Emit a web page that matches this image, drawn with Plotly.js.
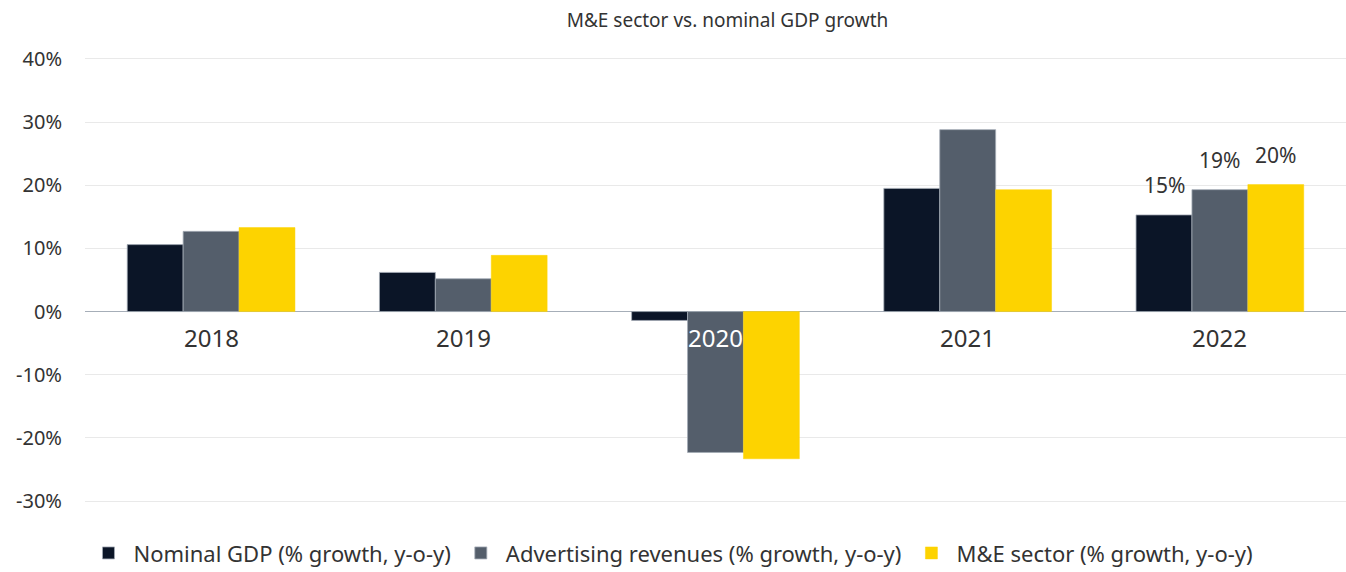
<!DOCTYPE html>
<html>
<head>
<meta charset="utf-8">
<script src="https://cdn.plot.ly/plotly-3.0.1.min.js"></script>
<style>html,body{margin:0;padding:0;background:#fff;}#chart{width:1346px;height:572px;}</style>
</head>
<body>
<div id="chart"></div>
<script>
const years = ["2018", "2019", "2020", "2021", "2022"];
const gdpGrowth = [10.6, 6.2, -1.4, 19.5, 15.3];
const adGrowth = [12.7, 5.2, -22.3, 28.8, 19.3];
const meGrowth = [13.3, 8.9, -23.3, 19.3, 20.1];
const labelYear = "2022";
const seriesNames = ["Nominal GDP (% growth, y-o-y)", "Advertising revenues (% growth, y-o-y)", "M&E sector (% growth, y-o-y)"];
const yTicks = [-30, -20, -10, 0, 10, 20, 30, 40];

const FONT = "Noto Sans, Open Sans, sans-serif";
const colors = ["#0b1527", "#545e6b", "#fdd300"];
const series = [gdpGrowth, adGrowth, meGrowth];
const BARGAP = 0.335;
const groupWidth = 1 - BARGAP;

const traces = series.map((vals, i) => ({
  type: "bar",
  name: seriesNames[i],
  x: years,
  y: vals,
  marker: {color: colors[i], line: {color: i === 2 ? "rgba(253,211,0,0.6)" : "#a3abb5", width: 0.8}},
  hoverinfo: "skip"
}));

const catAnnotations = years.map((y, j) => ({
  x: j, y: 0, xref: "x", yref: "y",
  text: y, showarrow: false,
  yanchor: "top", yshift: -7,
  font: {family: FONT, size: 24, color: Math.min(gdpGrowth[j], adGrowth[j], meGrowth[j]) < -10 ? "#ffffff" : "#333333"}
}));

const j22 = years.indexOf(labelYear);
const valueAnnotations = series.map((vals, i) => ({
  x: j22 + (i - (series.length - 1) / 2) * groupWidth / series.length,
  y: vals[j22], xref: "x", yref: "y",
  text: Math.round(vals[j22]) + "%", showarrow: false,
  yanchor: "bottom", yshift: 14,
  font: {family: FONT, size: 21, color: "#333333"}
}));

const layout = {
  width: 1346, height: 572,
  margin: {l: 85, r: 0, t: 57, b: 69},
  paper_bgcolor: "#fff", plot_bgcolor: "#fff",
  font: {family: FONT, size: 20, color: "#333"},
  title: {text: "M&E sector vs. nominal GDP growth", x: 0.5095, xref: "paper", xanchor: "center", y: 0.965, yref: "container", yanchor: "middle", font: {family: FONT, size: 19, color: "#333"}},
  barmode: "group",
  bargap: BARGAP,
  bargroupgap: 0,
  showlegend: true,
  legend: {orientation: "h", x: 0.4985, xref: "container", xanchor: "center", y: 0.033, yref: "container", yanchor: "middle", font: {family: FONT, size: 22, color: "#333"}, itemwidth: 40, traceorder: "normal"},
  xaxis: {type: "category", categoryorder: "array", categoryarray: years, range: [-0.5, years.length - 0.5], autorange: false, showticklabels: false, showgrid: false, zeroline: false, showline: false, ticks: ""},
  yaxis: {range: [-30.3, 40.3], autorange: false, tickvals: yTicks, ticktext: yTicks.map(v => v + "%"), showgrid: true, gridcolor: "#e9e9e9", gridwidth: 1, zeroline: true, zerolinecolor: "#a6aeb8", zerolinewidth: 1.5, showline: false, ticks: "", ticklabelstandoff: 22, tickfont: {family: FONT, size: 20, color: "#333"}},
  annotations: catAnnotations.concat(valueAnnotations)
};

Plotly.newPlot("chart", traces, layout, {displayModeBar: false, staticPlot: true});
</script>
</body>
</html>
